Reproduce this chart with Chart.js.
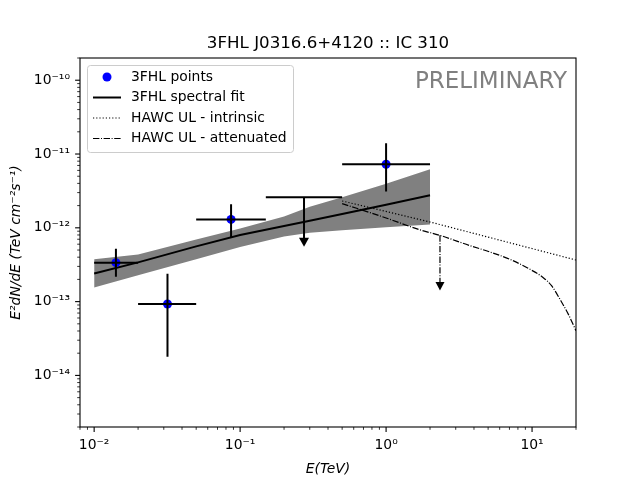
<!DOCTYPE html>
<html>
<head>
<meta charset="utf-8">
<script src="https://cdn.jsdelivr.net/npm/chart.js@4.4.1/dist/chart.umd.min.js"></script>
<style>
  html, body { margin: 0; padding: 0; background: #fff; }
  #wrap { width: 640px; height: 480px; }
</style>
</head>
<body>
<div id="wrap"><canvas id="myChart"></canvas></div>
<script>
// 3FHL flux points (E in TeV, E^2 dN/dE in TeV cm^-2 s^-1)
const pointE = [0.0141, 0.0318, 0.0867, 1.0];
const pointEmin = [0.01, 0.02, 0.05, 0.5];
const pointEmax = [0.02, 0.05, 0.15, 2.0];
const pointFlux = [3.37e-13, 9.3e-14, 1.30e-12, 7.26e-12];
const pointFluxLo = [2.18e-13, 1.79e-14, 7.28e-13, 3.10e-12];
const pointFluxHi = [5.2e-13, 2.39e-13, 2.08e-12, 1.40e-11];

// 3FHL upper limit bin
const ulE = [0.274];
const ulEmin = [0.15];
const ulEmax = [0.5];
const ulFlux = [2.59e-12];
const ulTip = [5.56e-13];

// 3FHL spectral fit + error band
const fitE = [0.01, 0.02, 0.05, 0.1, 0.2, 0.3, 0.5, 1, 2];
const fitFlux = [2.41e-13, 3.40e-13, 5.61e-13, 7.98e-13, 1.06e-12, 1.25e-12, 1.54e-12, 2.06e-12, 2.76e-12];
const bandHi = [3.74e-13, 4.35e-13, 6.94e-13, 9.8e-13, 1.42e-12, 1.93e-12, 2.59e-12, 3.95e-12, 6.21e-12];
const bandLo = [1.55e-13, 2.28e-13, 3.75e-13, 5.49e-13, 7.6e-13, 8.6e-13, 9.25e-13, 1.02e-12, 1.11e-12];

// HAWC upper limits
const hawcE = [0.5, 2, 20];
const hawcIntrinsic = [2.31e-12, 1.2e-12, 3.66e-13];
const hawcAttE = [0.5, 1, 1.7, 2.34, 3.7, 5.15, 7.06, 9.68, 11.94, 13.64, 15.55, 17.74, 20];
const hawcAttenuated = [2.13e-12, 1.36e-12, 9.4e-13, 7.9e-13, 5.79e-13, 4.70e-13, 3.74e-13, 2.74e-13, 2.11e-13, 1.63e-13, 1.07e-13, 6.72e-14, 4.03e-14];
const hawcUlE = [2.34];
const hawcUlFlux = [7.9e-13];
const hawcUlTip = [1.42e-13];

// axis decades
const xMajor = [0.01, 0.1, 1, 10];
const yMajor = [1e-14, 1e-13, 1e-12, 1e-11, 1e-10];

const toXY = (xs, ys) => xs.map((v, i) => ({x: v, y: ys[i]}));

const sup = {'-': '\u207B', '0': '\u2070', '1': '\u00B9', '2': '\u00B2', '3': '\u00B3',
             '4': '\u2074', '5': '\u2075', '6': '\u2076', '7': '\u2077', '8': '\u2078', '9': '\u2079'};
function powLabel(v) {
    const l = Math.log10(v), e = Math.round(l);
    if (Math.abs(l - e) > 1e-6) return '';
    return '10' + String(e).split('').map(c => sup[c]).join('');
}
function logTicks(min, max) {
    const out = [];
    for (let e = Math.floor(Math.log10(min)); e <= Math.ceil(Math.log10(max)); e++) {
        for (let m = 1; m < 10; m++) {
            const v = m * Math.pow(10, e);
            if (v >= min * 0.9999 && v <= max * 1.0001) out.push(v);
        }
    }
    return out;
}

const DASHDOT = [6.4, 1.6, 1, 1.6];
const DOTTED = [1.2, 2];

// error bars, upper limits, ticks, frame, legend, watermark
const sedExtras = {
    id: 'sedExtras',
    afterDatasetsDraw(chart) {
        const {ctx, chartArea: a, scales: {x, y}} = chart;
        ctx.save();
        ctx.beginPath();
        ctx.rect(a.left, a.top, a.width, a.height);
        ctx.clip();
        ctx.strokeStyle = '#000';
        ctx.fillStyle = '#000';
        ctx.lineWidth = 2;
        pointE.forEach((e, i) => {
            const px = x.getPixelForValue(e), py = y.getPixelForValue(pointFlux[i]);
            ctx.beginPath();
            ctx.moveTo(x.getPixelForValue(pointEmin[i]), py);
            ctx.lineTo(x.getPixelForValue(pointEmax[i]), py);
            ctx.moveTo(px, y.getPixelForValue(pointFluxHi[i]));
            ctx.lineTo(px, y.getPixelForValue(pointFluxLo[i]));
            ctx.stroke();
        });
        ulE.forEach((e, i) => {
            const px = x.getPixelForValue(e), py = y.getPixelForValue(ulFlux[i]);
            const tip = y.getPixelForValue(ulTip[i]);
            ctx.beginPath();
            ctx.moveTo(x.getPixelForValue(ulEmin[i]), py);
            ctx.lineTo(x.getPixelForValue(ulEmax[i]), py);
            ctx.moveTo(px, py);
            ctx.lineTo(px, tip - 8);
            ctx.stroke();
            arrowHead(ctx, px, tip, 5, 9);
        });
        ctx.lineWidth = 1.2;
        ctx.setLineDash(DASHDOT);
        hawcUlE.forEach((e, i) => {
            const px = x.getPixelForValue(e), py = y.getPixelForValue(hawcUlFlux[i]);
            const tip = y.getPixelForValue(hawcUlTip[i]);
            ctx.beginPath();
            ctx.moveTo(px, py);
            ctx.lineTo(px, tip - 8);
            ctx.stroke();
            arrowHead(ctx, px, tip, 4.5, 8.5);
        });
        ctx.restore();
    },
    afterDraw(chart) {
        const {ctx, chartArea: a, scales: {x, y}} = chart;
        ctx.save();
        // frame
        ctx.strokeStyle = '#000';
        ctx.lineWidth = 1.1;
        ctx.strokeRect(a.left, a.top, a.width, a.height);
        // tick marks (outward, matplotlib style)
        x.ticks.forEach(t => {
            const major = xMajor.some(m => Math.abs(m - t.value) / m < 1e-6);
            const px = x.getPixelForValue(t.value);
            ctx.lineWidth = major ? 1.1 : 0.8;
            ctx.beginPath();
            ctx.moveTo(px, a.bottom);
            ctx.lineTo(px, a.bottom + (major ? 4.9 : 2.8));
            ctx.stroke();
        });
        y.ticks.forEach(t => {
            const major = yMajor.some(m => Math.abs(m - t.value) / m < 1e-6);
            const py = y.getPixelForValue(t.value);
            ctx.lineWidth = major ? 1.1 : 0.8;
            ctx.beginPath();
            ctx.moveTo(a.left, py);
            ctx.lineTo(a.left - (major ? 4.9 : 2.8), py);
            ctx.stroke();
        });

        // watermark
        ctx.fillStyle = '#808080';
        ctx.font = '23px "DejaVu Sans"';
        ctx.textAlign = 'right';
        ctx.textBaseline = 'alphabetic';
        ctx.fillText('PRELIMINARY', a.right - 9, a.top + 30);

        // legend
        const lx = a.left + 7, ly = a.top + 7, lw = 206, lh = 87;
        ctx.fillStyle = 'rgba(255,255,255,0.8)';
        ctx.strokeStyle = '#cccccc';
        ctx.lineWidth = 1;
        ctx.beginPath();
        ctx.roundRect(lx + 0.5, ly + 0.5, lw, lh, 3);
        ctx.fill();
        ctx.stroke();
        const rows = chart.data.datasets.filter(d => d.legend);
        ctx.font = '13.9px "DejaVu Sans"';
        ctx.textAlign = 'left';
        ctx.textBaseline = 'middle';
        rows.forEach((d, i) => {
            const cy = ly + 12 + i * 20.5;
            const hx = lx + 6;
            ctx.save();
            if (d.showLine) {
                ctx.strokeStyle = d.borderColor;
                ctx.lineWidth = d.borderWidth;
                ctx.setLineDash(d.borderDash || []);
                ctx.beginPath();
                ctx.moveTo(hx, cy);
                ctx.lineTo(hx + 28, cy);
                ctx.stroke();
            } else {
                ctx.fillStyle = d.backgroundColor;
                ctx.beginPath();
                ctx.arc(hx + 14, cy, d.pointRadius, 0, Math.PI * 2);
                ctx.fill();
            }
            ctx.restore();
            ctx.fillStyle = '#000';
            ctx.fillText(d.label, lx + 44, cy);
        });
        ctx.restore();
    }
};

function arrowHead(ctx, px, tipY, halfW, h) {
    ctx.save();
    ctx.setLineDash([]);
    ctx.beginPath();
    ctx.moveTo(px - halfW, tipY - h);
    ctx.lineTo(px + halfW, tipY - h);
    ctx.lineTo(px, tipY);
    ctx.closePath();
    ctx.fill();
    ctx.restore();
}

const tickFont = {family: 'DejaVu Sans', size: 13.9};

const ctx = document.getElementById('myChart').getContext('2d');
const myChart = new Chart(ctx, {
    type: 'scatter',
    data: {
        datasets: [
            {
                label: '3FHL points',
                legend: true,
                data: toXY(pointE, pointFlux),
                backgroundColor: '#0000ff',
                borderWidth: 0,
                pointRadius: 4.5,
                order: 0
            },
            {
                label: '3FHL spectral fit',
                legend: true,
                data: toXY(fitE, fitFlux),
                showLine: true,
                borderColor: '#000',
                borderWidth: 2,
                pointRadius: 0,
                order: 1
            },
            {
                label: 'HAWC UL - intrinsic',
                legend: true,
                data: toXY(hawcE, hawcIntrinsic),
                showLine: true,
                borderColor: '#000',
                borderWidth: 1.2,
                borderDash: DOTTED,
                pointRadius: 0,
                order: 2
            },
            {
                label: 'HAWC UL - attenuated',
                legend: true,
                data: toXY(hawcAttE, hawcAttenuated),
                showLine: true,
                borderColor: '#000',
                borderWidth: 1.2,
                borderDash: DASHDOT,
                cubicInterpolationMode: 'monotone',
                pointRadius: 0,
                order: 3
            },
            {
                label: 'band hi',
                data: toXY(fitE, bandHi),
                showLine: true,
                borderWidth: 0,
                pointRadius: 0,
                backgroundColor: '#808080',
                fill: '+1',
                order: 5
            },
            {
                label: 'band lo',
                data: toXY(fitE, bandLo),
                showLine: true,
                borderWidth: 0,
                pointRadius: 0,
                order: 6
            }
        ]
    },
    options: {
        responsive: true,
        maintainAspectRatio: false,
        animation: false,
        events: [],
        layout: { padding: { left: 0, right: 64, top: 0, bottom: 0 } },
        scales: {
            x: {
                type: 'logarithmic',
                min: 0.008,
                max: 20,
                grid: { display: false, drawTicks: false },
                border: { display: false },
                afterBuildTicks: s => { s.ticks = logTicks(s.min, s.max).map(v => ({value: v})); },
                afterFit: s => { s.height = 53; },
                ticks: {
                    autoSkip: false,
                    maxRotation: 0,
                    minRotation: 0,
                    padding: 10,
                    color: '#000',
                    font: tickFont,
                    callback: v => powLabel(v)
                },
                title: {
                    display: true,
                    text: 'E(TeV)',
                    color: '#000',
                    font: {family: 'DejaVu Sans', size: 13.9, style: 'italic'},
                    padding: {top: 0, bottom: 2}
                }
            },
            y: {
                type: 'logarithmic',
                min: 2e-15,
                max: 2e-10,
                grid: { display: false, drawTicks: false },
                border: { display: false },
                afterBuildTicks: s => { s.ticks = logTicks(s.min, s.max).map(v => ({value: v})); },
                afterFit: s => { s.width = 80; },
                ticks: {
                    autoSkip: false,
                    padding: 10,
                    color: '#000',
                    font: tickFont,
                    callback: v => powLabel(v)
                },
                title: {
                    display: true,
                    text: 'E\u00B2dN/dE (TeV cm\u207B\u00B2s\u207B\u00B9)',
                    color: '#000',
                    font: {family: 'DejaVu Sans', size: 13.9, style: 'italic'},
                    padding: {top: 8, bottom: 0}
                }
            }
        },
        plugins: {
            legend: { display: false },
            tooltip: { enabled: false },
            title: {
                display: true,
                fullSize: false,
                text: '3FHL J0316.6+4120 :: IC 310',
                color: '#000',
                font: {family: 'DejaVu Sans', size: 16.67, weight: 'normal', lineHeight: 1.2},
                padding: {top: 34, bottom: 4}
            },
            filler: { propagate: false }
        }
    },
    plugins: [sedExtras]
});
</script>
</body>
</html>
